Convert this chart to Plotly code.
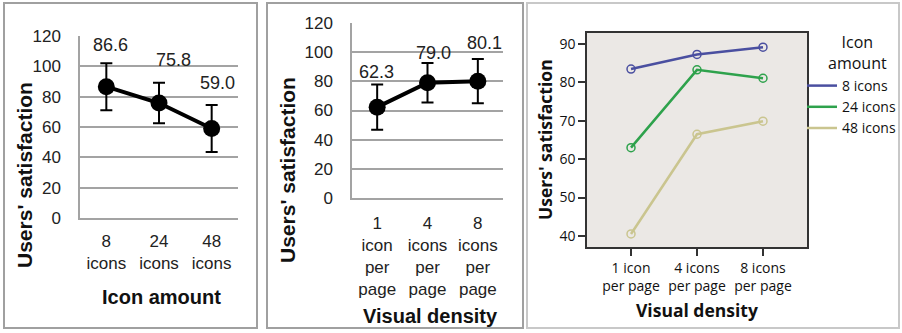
import plotly.graph_objects as go

# ---------------- data ----------------
icon_amount_cats = ["8 icons", "24 icons", "48 icons"]
icon_amount_ticks = ["8<br>icons", "24<br>icons", "48<br>icons"]
icon_amount_mean = [86.6, 75.8, 59.0]
icon_amount_err = [15.5, 13.3, 15.5]

density_cats = ["1 icon per page", "4 icons per page", "8 icons per page"]
density_ticks_a = ["1<br>icon<br>per<br>page", "4<br>icons<br>per<br>page", "8<br>icons<br>per<br>page"]
density_mean = [62.3, 79.0, 80.1]
density_err = [15.5, 13.5, 15.2]

density_ticks_b = ["1 icon<br>per page", "4 icons<br>per page", "8 icons<br>per page"]
series_names = ["8 icons", "24 icons", "48 icons"]
sat_8_icons = [83.5, 87.3, 89.2]
sat_24_icons = [63.0, 83.3, 81.1]
sat_48_icons = [40.5, 66.5, 69.9]
series_values = [sat_8_icons, sat_24_icons, sat_48_icons]
series_colors = ["#4a4fa0", "#2ea24c", "#cac58f"]

W, H = 902, 333
def px(x):
    return x / W
def py(y):
    return 1 - y / H

SANS = "Liberation Sans, Arial, sans-serif"
OPEN = "Open Sans, sans-serif"

fig = go.Figure()

# Panel 1
fig.add_trace(go.Scatter(
    x=icon_amount_cats, y=icon_amount_mean, mode="lines+markers",
    line=dict(color="black", width=4), marker=dict(color="black", size=17),
    error_y=dict(type="data", array=icon_amount_err, color="black", thickness=2, width=6),
    xaxis="x", yaxis="y", showlegend=False, hoverinfo="skip"))

# Panel 2
fig.add_trace(go.Scatter(
    x=density_cats, y=density_mean, mode="lines+markers",
    line=dict(color="black", width=4), marker=dict(color="black", size=17),
    error_y=dict(type="data", array=density_err, color="black", thickness=2, width=6),
    xaxis="x2", yaxis="y2", showlegend=False, hoverinfo="skip"))

# Panel 3: lines (shown in legend) and open-circle markers
for name, vals, col in zip(series_names, series_values, series_colors):
    fig.add_trace(go.Scatter(
        x=density_cats, y=vals, mode="lines", name=name, legendgroup=name,
        line=dict(color=col, width=2.5),
        xaxis="x3", yaxis="y3", hoverinfo="skip"))
    fig.add_trace(go.Scatter(
        x=density_cats, y=vals, mode="markers", name=name, legendgroup=name, showlegend=False,
        marker=dict(symbol="circle-open", size=8, color=col, line=dict(width=1.5, color=col)),
        xaxis="x3", yaxis="y3", hoverinfo="skip"))

grid_col = "#a3a3a3"
common_y = dict(range=[0, 120], tickvals=[0, 20, 40, 60, 80, 100, 120], showgrid=True,
                gridcolor=grid_col, gridwidth=1.5, showline=True, linecolor=grid_col,
                linewidth=1.5, zeroline=False, ticks="", tickfont=dict(family=SANS, size=17, color="#222"),
                ticklabelstandoff=14, automargin=False)

fig.update_layout(
    width=W, height=H, margin=dict(l=0, r=0, t=0, b=0, autoexpand=False),
    paper_bgcolor="white", plot_bgcolor="white",
    xaxis=dict(domain=[px(80), px(238)], type="category", range=[-0.5, 2.5],
               tickvals=icon_amount_cats, ticktext=icon_amount_ticks, showgrid=False,
               showline=True, linecolor=grid_col, linewidth=1.5, ticks="",
               tickfont=dict(family=SANS, size=17, color="#222"), ticklabelstandoff=7,
               automargin=False),
    yaxis=dict(domain=[py(218), py(36)], anchor="x", **common_y),
    xaxis2=dict(domain=[px(352), px(503)], type="category", range=[-0.5, 2.5], anchor="y2",
                tickvals=density_cats, ticktext=density_ticks_a, showgrid=False,
                showline=True, linecolor=grid_col, linewidth=1.5, ticks="",
                tickfont=dict(family=SANS, size=17, color="#222"), ticklabelstandoff=9,
                automargin=False),
    yaxis2=dict(domain=[py(198), py(23)], anchor="x2", **common_y),
    xaxis3=dict(domain=[px(587), px(807)], type="category", range=[-0.667, 2.667], anchor="y3",
                tickvals=density_cats, ticktext=density_ticks_b, showgrid=False,
                showline=True, mirror=True, linecolor="#333", linewidth=1.5,
                ticks="outside", ticklen=7, tickcolor="#333", tickwidth=1.5,
                tickfont=dict(family=OPEN, size=14, color="#111"), automargin=False),
    yaxis3=dict(domain=[py(247), py(33)], anchor="x3", range=[37.1, 92.9],
                tickvals=[40, 50, 60, 70, 80, 90], showgrid=False, zeroline=False,
                showline=True, mirror=True, linecolor="#333", linewidth=1.5,
                ticks="outside", ticklen=7, tickcolor="#333", tickwidth=1.5,
                tickfont=dict(family=OPEN, size=14, color="#111"), automargin=False),
    legend=dict(x=px(802), xanchor="left", y=py(70), yanchor="top",
                bgcolor="rgba(0,0,0,0)", font=dict(family=OPEN, size=14, color="#111"),
                itemwidth=30, tracegroupgap=0),
)

shapes = [
    dict(type="rect", xref="x3 domain", yref="y3 domain", x0=0, x1=1, y0=0, y1=1,
         fillcolor="#ebe8e5", line=dict(width=0), layer="below"),
    dict(type="rect", xref="paper", yref="paper", x0=px(4), x1=px(257), y0=py(328), y1=py(3),
         line=dict(color="#a0a0a0", width=2)),
    dict(type="rect", xref="paper", yref="paper", x0=px(267), x1=px(523), y0=py(328), y1=py(3),
         line=dict(color="#a0a0a0", width=2)),
    dict(type="rect", xref="paper", yref="paper", x0=px(527), x1=px(899), y0=py(328), y1=py(3),
         line=dict(color="#c8c8c8", width=2)),
]
fig.update_layout(shapes=shapes)

annotations = []
# value labels
p1_shift_x = [4, 14, 6]
p1_shift_y = [42, 43, 46]
for c, v, dx, dy in zip(icon_amount_cats, icon_amount_mean, p1_shift_x, p1_shift_y):
    annotations.append(dict(x=c, y=v, xref="x", yref="y", text=f"{v:.1f}", showarrow=False,
                            xshift=dx, yshift=dy, font=dict(family=SANS, size=18, color="#222")))
p2_shift_x = [-1, 6, 7]
p2_shift_y = [35, 30, 38]
for c, v, dx, dy in zip(density_cats, density_mean, p2_shift_x, p2_shift_y):
    annotations.append(dict(x=c, y=v, xref="x2", yref="y2", text=f"{v:.1f}", showarrow=False,
                            xshift=dx, yshift=dy, font=dict(family=SANS, size=18, color="#222")))

def title(x, y, text, family, size, angle=0):
    return dict(x=px(x), y=py(y), xref="paper", yref="paper", text=text, textangle=angle,
                xanchor="center", yanchor="middle", showarrow=False,
                font=dict(family=family, size=size, color="#111"))

annotations += [
    title(24, 175, "<b>Users' satisfaction</b>", SANS, 21, -90),
    title(161, 297, "<b>Icon amount</b>", SANS, 20),
    title(287, 170, "<b>Users' satisfaction</b>", SANS, 21, -90),
    title(430, 316, "<b>Visual density</b>", SANS, 20),
    title(545, 140, "<b>Users' satisfaction</b>", OPEN, 17.5, -90),
    title(697, 310, "<b>Visual density</b>", OPEN, 17.5),
    title(857, 52, "Icon<br>amount", OPEN, 16),
]
fig.update_layout(annotations=annotations)

fig.write_html("out.html", config={"displayModeBar": False},
               post_script="document.body.style.margin='0';document.body.style.padding='0';")
